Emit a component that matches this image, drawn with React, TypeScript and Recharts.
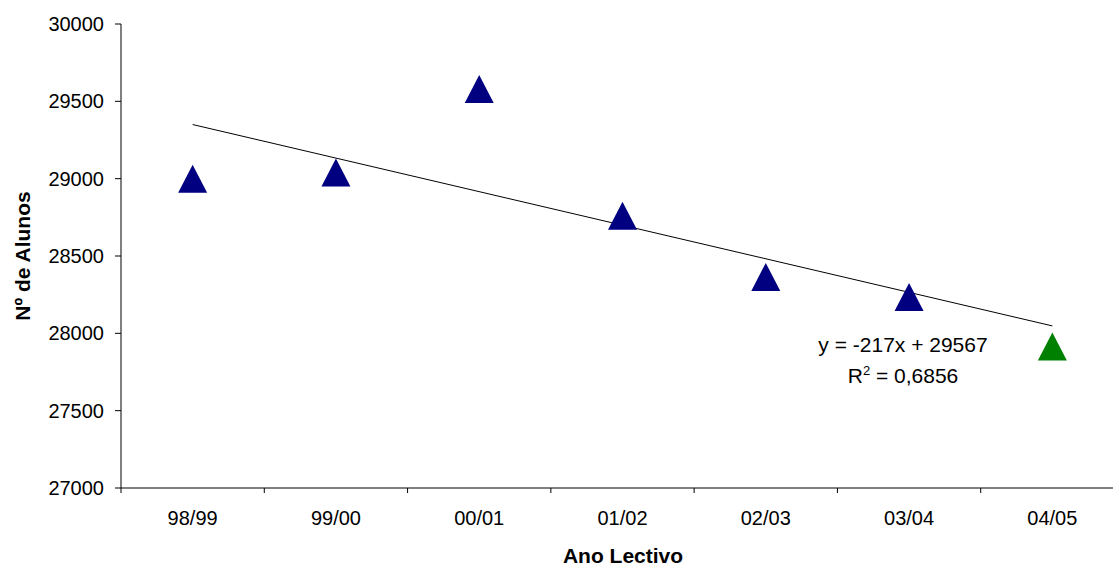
import { ComposedChart, Line, XAxis, YAxis, Customized } from 'recharts';

// Ano lectivo (categorias)
const anos = ['98/99', '99/00', '00/01', '01/02', '02/03', '03/04', '04/05'];
// Nº de alunos por ano
const alunos = [29000, 29040, 29580, 28760, 28365, 28235, 27915];
// cor de cada triângulo (último ano a verde)
const cores = ['#000080', '#000080', '#000080', '#000080', '#000080', '#000080', '#008000'];
// linha de tendência (extremos)
const tendencia = [29350, null, null, null, null, null, 28048];
const yTicks = [27000, 27500, 28000, 28500, 29000, 29500, 30000];

const W = 1126;
const H = 571;
const margin = { top: 24, right: 2, left: 0, bottom: 0 };
const xAxisHeight = 83;
const yAxisWidth = 121;
const band = (W - margin.left - margin.right - yAxisWidth) / anos.length;
const font = '"Liberation Sans", Arial, sans-serif';

const data = anos.map((ano, i) => ({
  x: i + 1,
  ano,
  alunos: alunos[i],
  cor: cores[i],
  tendencia: tendencia[i],
}));

const boundaryTicks = anos.map((_, i) => i + 0.5).concat(anos.length + 0.5);

function XTick(props: any) {
  const { x, y, index } = props;
  return (
    <g>
      <line x1={x} x2={x} y1={y} y2={y + 5} stroke="#000" />
      {index < anos.length && (
        <text x={x + band / 2} y={y + 37} textAnchor="middle" fontSize={20} fill="#000" fontFamily={font}>
          {anos[index]}
        </text>
      )}
    </g>
  );
}

function Triangle(props: any) {
  const { cx, cy, payload, index } = props;
  if (cx == null || cy == null) return <g key={index} />;
  const h = 14;
  const w = 14.5;
  return (
    <polygon
      key={index}
      points={`${cx},${cy - h} ${cx + w},${cy + h} ${cx - w},${cy + h}`}
      fill={payload.cor}
    />
  );
}

function Annotations() {
  return (
    <g fontFamily={font} fill="#000">
      <text x={903} y={352} textAnchor="middle" fontSize={21}>
        y = -217x + 29567
      </text>
      <text x={903} y={383} textAnchor="middle" fontSize={21}>
        R<tspan dy={-8} fontSize={13}>2</tspan>
        <tspan dy={8}> = 0,6856</tspan>
      </text>
      <text x={623} y={563} textAnchor="middle" fontSize={21} fontWeight="bold">
        Ano Lectivo
      </text>
      <text
        x={30}
        y={256}
        textAnchor="middle"
        fontSize={21}
        fontWeight="bold"
        transform="rotate(-90 30 256)"
      >
        Nº de Alunos
      </text>
    </g>
  );
}

export default function App() {
  return (
    <div style={{ position: 'absolute', left: 0, top: 0, width: 1113, height: H, overflow: 'hidden', background: '#fff' }}>
      <ComposedChart width={W} height={H} data={data} margin={margin}>
        <XAxis
          dataKey="x"
          type="number"
          domain={[0.5, anos.length + 0.5]}
          ticks={boundaryTicks}
          interval={0}
          tickSize={0}
          tickMargin={0}
          tickLine={false}
          axisLine={{ stroke: '#000' }}
          tick={<XTick />}
          height={xAxisHeight}
        />
        <YAxis
          domain={[27000, 30000]}
          ticks={yTicks}
          width={yAxisWidth}
          tickSize={6}
          tickMargin={11}
          axisLine={{ stroke: '#000' }}
          tickLine={{ stroke: '#000' }}
          tick={{ fill: '#000', fontSize: 20, fontFamily: font }}
          interval={0}
        />
        <Line
          dataKey="tendencia"
          stroke="#000"
          strokeWidth={1}
          dot={false}
          activeDot={false}
          connectNulls
          isAnimationActive={false}
        />
        <Line
          dataKey="alunos"
          stroke="none"
          dot={Triangle}
          activeDot={false}
          isAnimationActive={false}
        />
        <Customized component={Annotations} />
      </ComposedChart>
    </div>
  );
}
